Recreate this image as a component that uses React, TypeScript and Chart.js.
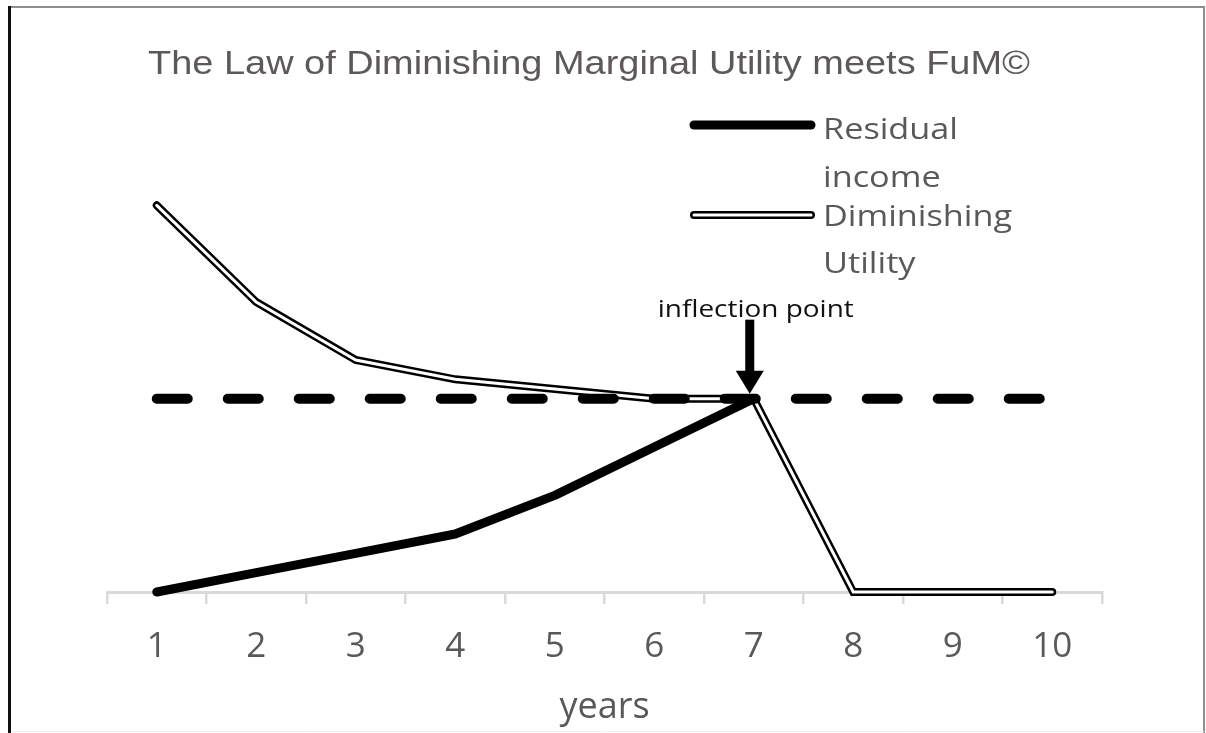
import React, { useEffect, useRef } from 'react';
import { Chart, registerables } from 'chart.js';

Chart.register(...registerables);

// ---- data ----
const years = ['1', '2', '3', '4', '5', '6', '7', '8', '9', '10'];
const residualIncome = [0, 5, 10, 15, 25, 37.5, 50, null, null, null];
const diminishingUtility = [100, 75, 60, 55, 52.5, 50, 50, 0, 0, 0];
const equilibriumLevel = [50, 50, 50, 50, 50, 50, 50, 50, 50, 50];
const inflectionIndex = 6;

// ---- text ----
const titleText = 'The Law of Diminishing Marginal Utility meets FuM©';
const legendResidual = ['Residual', 'income'];
const legendUtility = ['Diminishing', 'Utility'];
const annotationText = 'inflection point';
const xAxisTitle = 'years';

const CAL = '"Open Sans", "DejaVu Sans", sans-serif';
const ARIAL = '"Liberation Sans", Arial, sans-serif';

function stretchedText(ctx: CanvasRenderingContext2D, text: string, x: number, y: number, sx: number, align: 'left' | 'center') {
  const w = ctx.measureText(text).width * sx;
  const left = align === 'center' ? x - w / 2 : x;
  ctx.save();
  ctx.translate(left, y);
  ctx.scale(sx, 1);
  ctx.textAlign = 'left';
  ctx.textBaseline = 'alphabetic';
  ctx.fillText(text, 0, 0);
  ctx.restore();
}

const decorPlugin = {
  id: 'decor',
  beforeDraw(chart: any) {
    const ctx: CanvasRenderingContext2D = chart.ctx;
    const W = chart.width;
    const H = chart.height;
    ctx.save();
    ctx.fillStyle = '#ffffff';
    ctx.fillRect(0, 0, W, H);
    // frame
    ctx.strokeStyle = '#8e8e8e';
    ctx.lineWidth = 2;
    ctx.beginPath();
    ctx.moveTo(9, 7);
    ctx.lineTo(W - 1, 7);
    ctx.moveTo(W - 2, 7);
    ctx.lineTo(W - 2, H);
    ctx.stroke();
    ctx.strokeStyle = '#ededed';
    ctx.lineWidth = 1;
    ctx.beginPath();
    ctx.moveTo(9, H - 1.5);
    ctx.lineTo(W - 2, H - 1.5);
    ctx.stroke();
    ctx.strokeStyle = '#111111';
    ctx.lineWidth = 3;
    ctx.beginPath();
    ctx.moveTo(9.5, 6);
    ctx.lineTo(9.5, H);
    ctx.stroke();
    ctx.restore();
  },
  afterDraw(chart: any) {
    const ctx: CanvasRenderingContext2D = chart.ctx;
    ctx.save();

    // title
    ctx.font = `33px ${ARIAL}`;
    ctx.fillStyle = '#5d5959';
    const tw = ctx.measureText(titleText).width;
    stretchedText(ctx, titleText, 148, 74, 882 / tw, 'left');

    // legend markers
    ctx.lineCap = 'round';
    ctx.strokeStyle = '#000';
    ctx.lineWidth = 9;
    ctx.beginPath();
    ctx.moveTo(694, 125);
    ctx.lineTo(811, 125);
    ctx.stroke();
    ctx.lineWidth = 8;
    ctx.beginPath();
    ctx.moveTo(694, 215);
    ctx.lineTo(811, 215);
    ctx.stroke();
    ctx.strokeStyle = '#fff';
    ctx.lineWidth = 3;
    ctx.beginPath();
    ctx.moveTo(694, 215);
    ctx.lineTo(811, 215);
    ctx.stroke();

    // legend text
    ctx.font = `29px ${CAL}`;
    ctx.fillStyle = '#595959';
    const lsx = 135 / ctx.measureText(legendResidual[0]).width;
    stretchedText(ctx, legendResidual[0], 823, 139, lsx, 'left');
    stretchedText(ctx, legendResidual[1], 823, 187, lsx, 'left');
    stretchedText(ctx, legendUtility[0], 823, 226, lsx, 'left');
    stretchedText(ctx, legendUtility[1], 823, 273, lsx, 'left');

    // annotation
    const xs = chart.scales.x;
    const ys = chart.scales.y;
    const px = xs.getPixelForValue(inflectionIndex);
    const py = ys.getPixelForValue(diminishingUtility[inflectionIndex]);
    ctx.font = `500 24px ${CAL}`;
    ctx.fillStyle = '#111111';
    const asx = 196 / ctx.measureText(annotationText).width;
    stretchedText(ctx, annotationText, px + 2, py - 82, asx, 'center');

    const ax = px - 4;
    ctx.fillStyle = '#000';
    ctx.fillRect(ax - 4.5, py - 79, 9, 52);
    ctx.beginPath();
    ctx.moveTo(ax - 14, py - 28);
    ctx.lineTo(ax + 14, py - 28);
    ctx.lineTo(ax, py - 5);
    ctx.closePath();
    ctx.fill();

    ctx.restore();
  },
};

export default function App() {
  const canvasRef = useRef<HTMLCanvasElement | null>(null);

  useEffect(() => {
    document.body.style.margin = '0';
    let chart: Chart | null = null;
    let cancelled = false;
    const make = () => {
      if (cancelled || !canvasRef.current) return;
      chart = new Chart(canvasRef.current, {
        type: 'line',
        data: {
          labels: years,
          datasets: [
            {
              label: 'Diminishing Utility',
              data: diminishingUtility,
              borderColor: '#000',
              borderWidth: 8,
              borderCapStyle: 'round',
              borderJoinStyle: 'miter',
              pointRadius: 0,
              tension: 0,
              clip: false,
              order: 4,
            },
            {
              label: 'Diminishing Utility inner',
              data: diminishingUtility,
              borderColor: '#fff',
              borderWidth: 3,
              borderCapStyle: 'round',
              borderJoinStyle: 'miter',
              pointRadius: 0,
              tension: 0,
              clip: false,
              order: 3,
            },
            {
              label: 'level',
              data: equilibriumLevel,
              borderColor: '#000',
              borderWidth: 10,
              borderDash: [31, 40],
              borderCapStyle: 'round',
              pointRadius: 0,
              tension: 0,
              clip: false,
              order: 2,
            },
            {
              label: 'Residual income',
              data: residualIncome,
              borderColor: '#000',
              borderWidth: 9,
              borderCapStyle: 'round',
              borderJoinStyle: 'round',
              pointRadius: 0,
              tension: 0,
              clip: false,
              spanGaps: false,
              order: 1,
            },
          ] as any,
        },
        options: {
          responsive: false,
          animation: false,
          devicePixelRatio: 1,
          layout: { padding: { left: 107, right: 104, top: 128, bottom: 0 } },
          plugins: {
            legend: { display: false },
            tooltip: { enabled: false },
            title: { display: false },
          },
          scales: {
            x: {
              type: 'category',
              offset: true,
              grid: {
                drawOnChartArea: false,
                drawTicks: true,
                tickLength: 12,
                color: '#d9d9d9',
                lineWidth: 2.5,
                offset: true,
              },
              border: { display: true, color: '#d9d9d9', width: 3 },
              ticks: {
                color: '#595959',
                font: { family: CAL, size: 35 },
                padding: 22,
                maxRotation: 0,
                autoSkip: false,
              },
              title: {
                display: true,
                text: xAxisTitle,
                color: '#595959',
                font: { family: CAL, size: 36 },
                padding: { top: 0, bottom: 4 },
              },
              afterFit: (s: any) => {
                s.height = 141;
              },
            } as any,
            y: { display: false, min: 0, max: 120 },
          },
        },
        plugins: [decorPlugin],
      });
    };
    const fontsReady = (document as any).fonts
      ? Promise.all([
          (document as any).fonts.load(`35px ${CAL}`),
          (document as any).fonts.load(`500 24px ${CAL}`),
          (document as any).fonts.load(`33px ${ARIAL}`),
        ]).catch(() => null)
      : Promise.resolve(null);
    fontsReady.then(make);
    return () => {
      cancelled = true;
      if (chart) chart.destroy();
    };
  }, []);

  return (
    <div style={{ position: 'absolute', left: 0, top: 0, width: 1206, height: 733 }}>
      <canvas ref={canvasRef} width={1206} height={733} style={{ display: 'block', width: 1206, height: 733 }} />
    </div>
  );
}
